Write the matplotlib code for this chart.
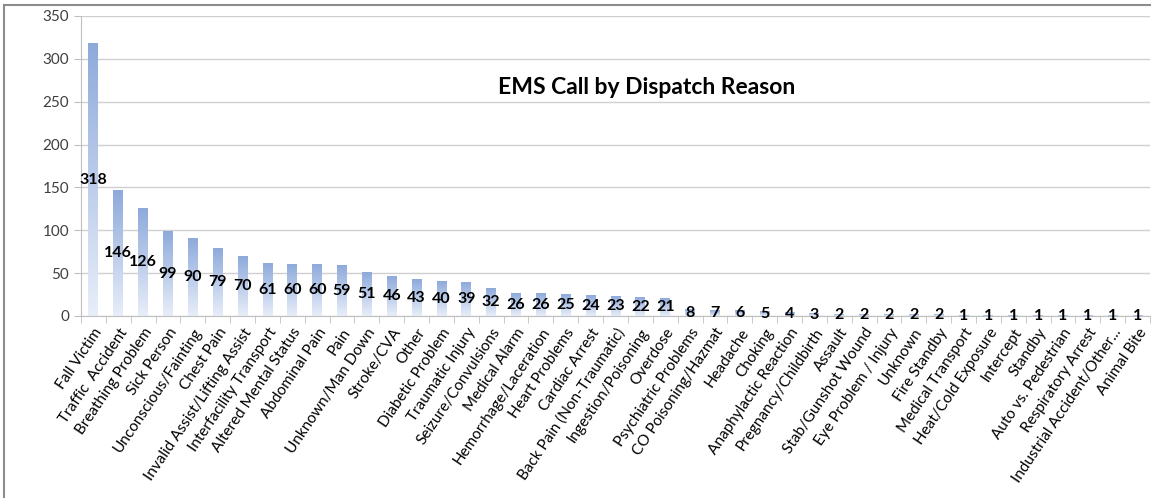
import numpy as np
import matplotlib; matplotlib.use("Agg")
import matplotlib.pyplot as plt
from matplotlib.colors import LinearSegmentedColormap
from matplotlib.patches import Rectangle

plt.rcParams.update({"font.family": ["Lato", "DejaVu Sans"]})

reasons = ["Fall Victim", "Traffic  Accident", "Breathing Problem", "Sick Person",
           "Unconscious/Fainting", "Chest Pain", "Invalid Assist/Lifting Assist",
           "Interfacility Transport", "Altered Mental Status", "Abdominal Pain", "Pain",
           "Unknown/Man Down", "Stroke/CVA", "Other", "Diabetic Problem", "Traumatic Injury",
           "Seizure/Convulsions", "Medical Alarm", "Hemorrhage/Laceration", "Heart Problems",
           "Cardiac Arrest", "Back Pain (Non-Traumatic)", "Ingestion/Poisoning", "Overdose",
           "Psychiatric Problems", "CO Poisoning/Hazmat", "Headache", "Choking",
           "Anaphylactic Reaction", "Pregnancy/Childbirth", "Assault", "Stab/Gunshot Wound",
           "Eye Problem / Injury", "Unknown", "Fire Standby", "Medical Transport",
           "Heat/Cold Exposure", "Intercept", "Standby", "Auto vs. Pedestrian",
           "Respiratory Arrest", "Industrial Accident/Other...", "Animal Bite"]
calls = [318, 146, 126, 99, 90, 79, 70, 61, 60, 60, 59, 51, 46, 43, 40, 39, 32, 26, 26, 25,
         24, 23, 22, 21, 8, 7, 6, 5, 4, 3, 2, 2, 2, 2, 2, 1, 1, 1, 1, 1, 1, 1, 1]

fig = plt.figure(figsize=(11.51, 4.98), dpi=100)
ax = fig.add_axes([0.0704, 0.3655, 0.9287, 0.6024])

# outer chart border (Excel chart area)
fig.patches.append(Rectangle((4 / 1151, -0.1), 1.2, 1 - 5 / 498 + 0.1, transform=fig.transFigure,
                             fill=False, ec="#8c8c8c", lw=1.5))

cmap = LinearSegmentedColormap.from_list("bar", ["#e8eef9", "#8eaadb"])
grad = np.linspace(0, 1, 256).reshape(-1, 1)
w = 0.4
x = np.arange(len(reasons))
for xi, v in zip(x, calls):
    ax.imshow(grad, cmap=cmap, origin="lower", aspect="auto",
              extent=(xi - w / 2, xi + w / 2, 0, v), zorder=2, interpolation="bilinear")
    ax.text(xi, v / 2, str(v), ha="center", va="center", fontsize=11.5, fontweight="bold",
            color="black", zorder=3)

ax.set_xlim(-0.5, len(reasons) - 0.5)
ax.set_ylim(0, 350)
ax.set_yticks(range(0, 351, 50))
ax.yaxis.grid(True, color="#d0d0d0", lw=1)
ax.set_axisbelow(True)
ax.set_xticks(x)
ax.set_xticklabels(reasons, rotation=56, ha="right", rotation_mode="anchor", fontsize=11)
ax.set_xticks(np.arange(-0.5, len(reasons), 1), minor=True)
ax.tick_params(axis="x", which="major", length=0, pad=7)
ax.tick_params(axis="x", which="minor", length=5, color="#bfbfbf")
ax.tick_params(axis="y", length=5, color="#bfbfbf", labelsize=11, labelcolor="#404040")
for s in ["top", "right"]:
    ax.spines[s].set_visible(False)
for s in ["left", "bottom"]:
    ax.spines[s].set_color("#bfbfbf")

ax.text(0.529, 0.763, "EMS Call by Dispatch Reason", transform=ax.transAxes,
        ha="center", va="center", fontsize=16.5, fontweight="bold")

fig.savefig("out.png", dpi=100)
